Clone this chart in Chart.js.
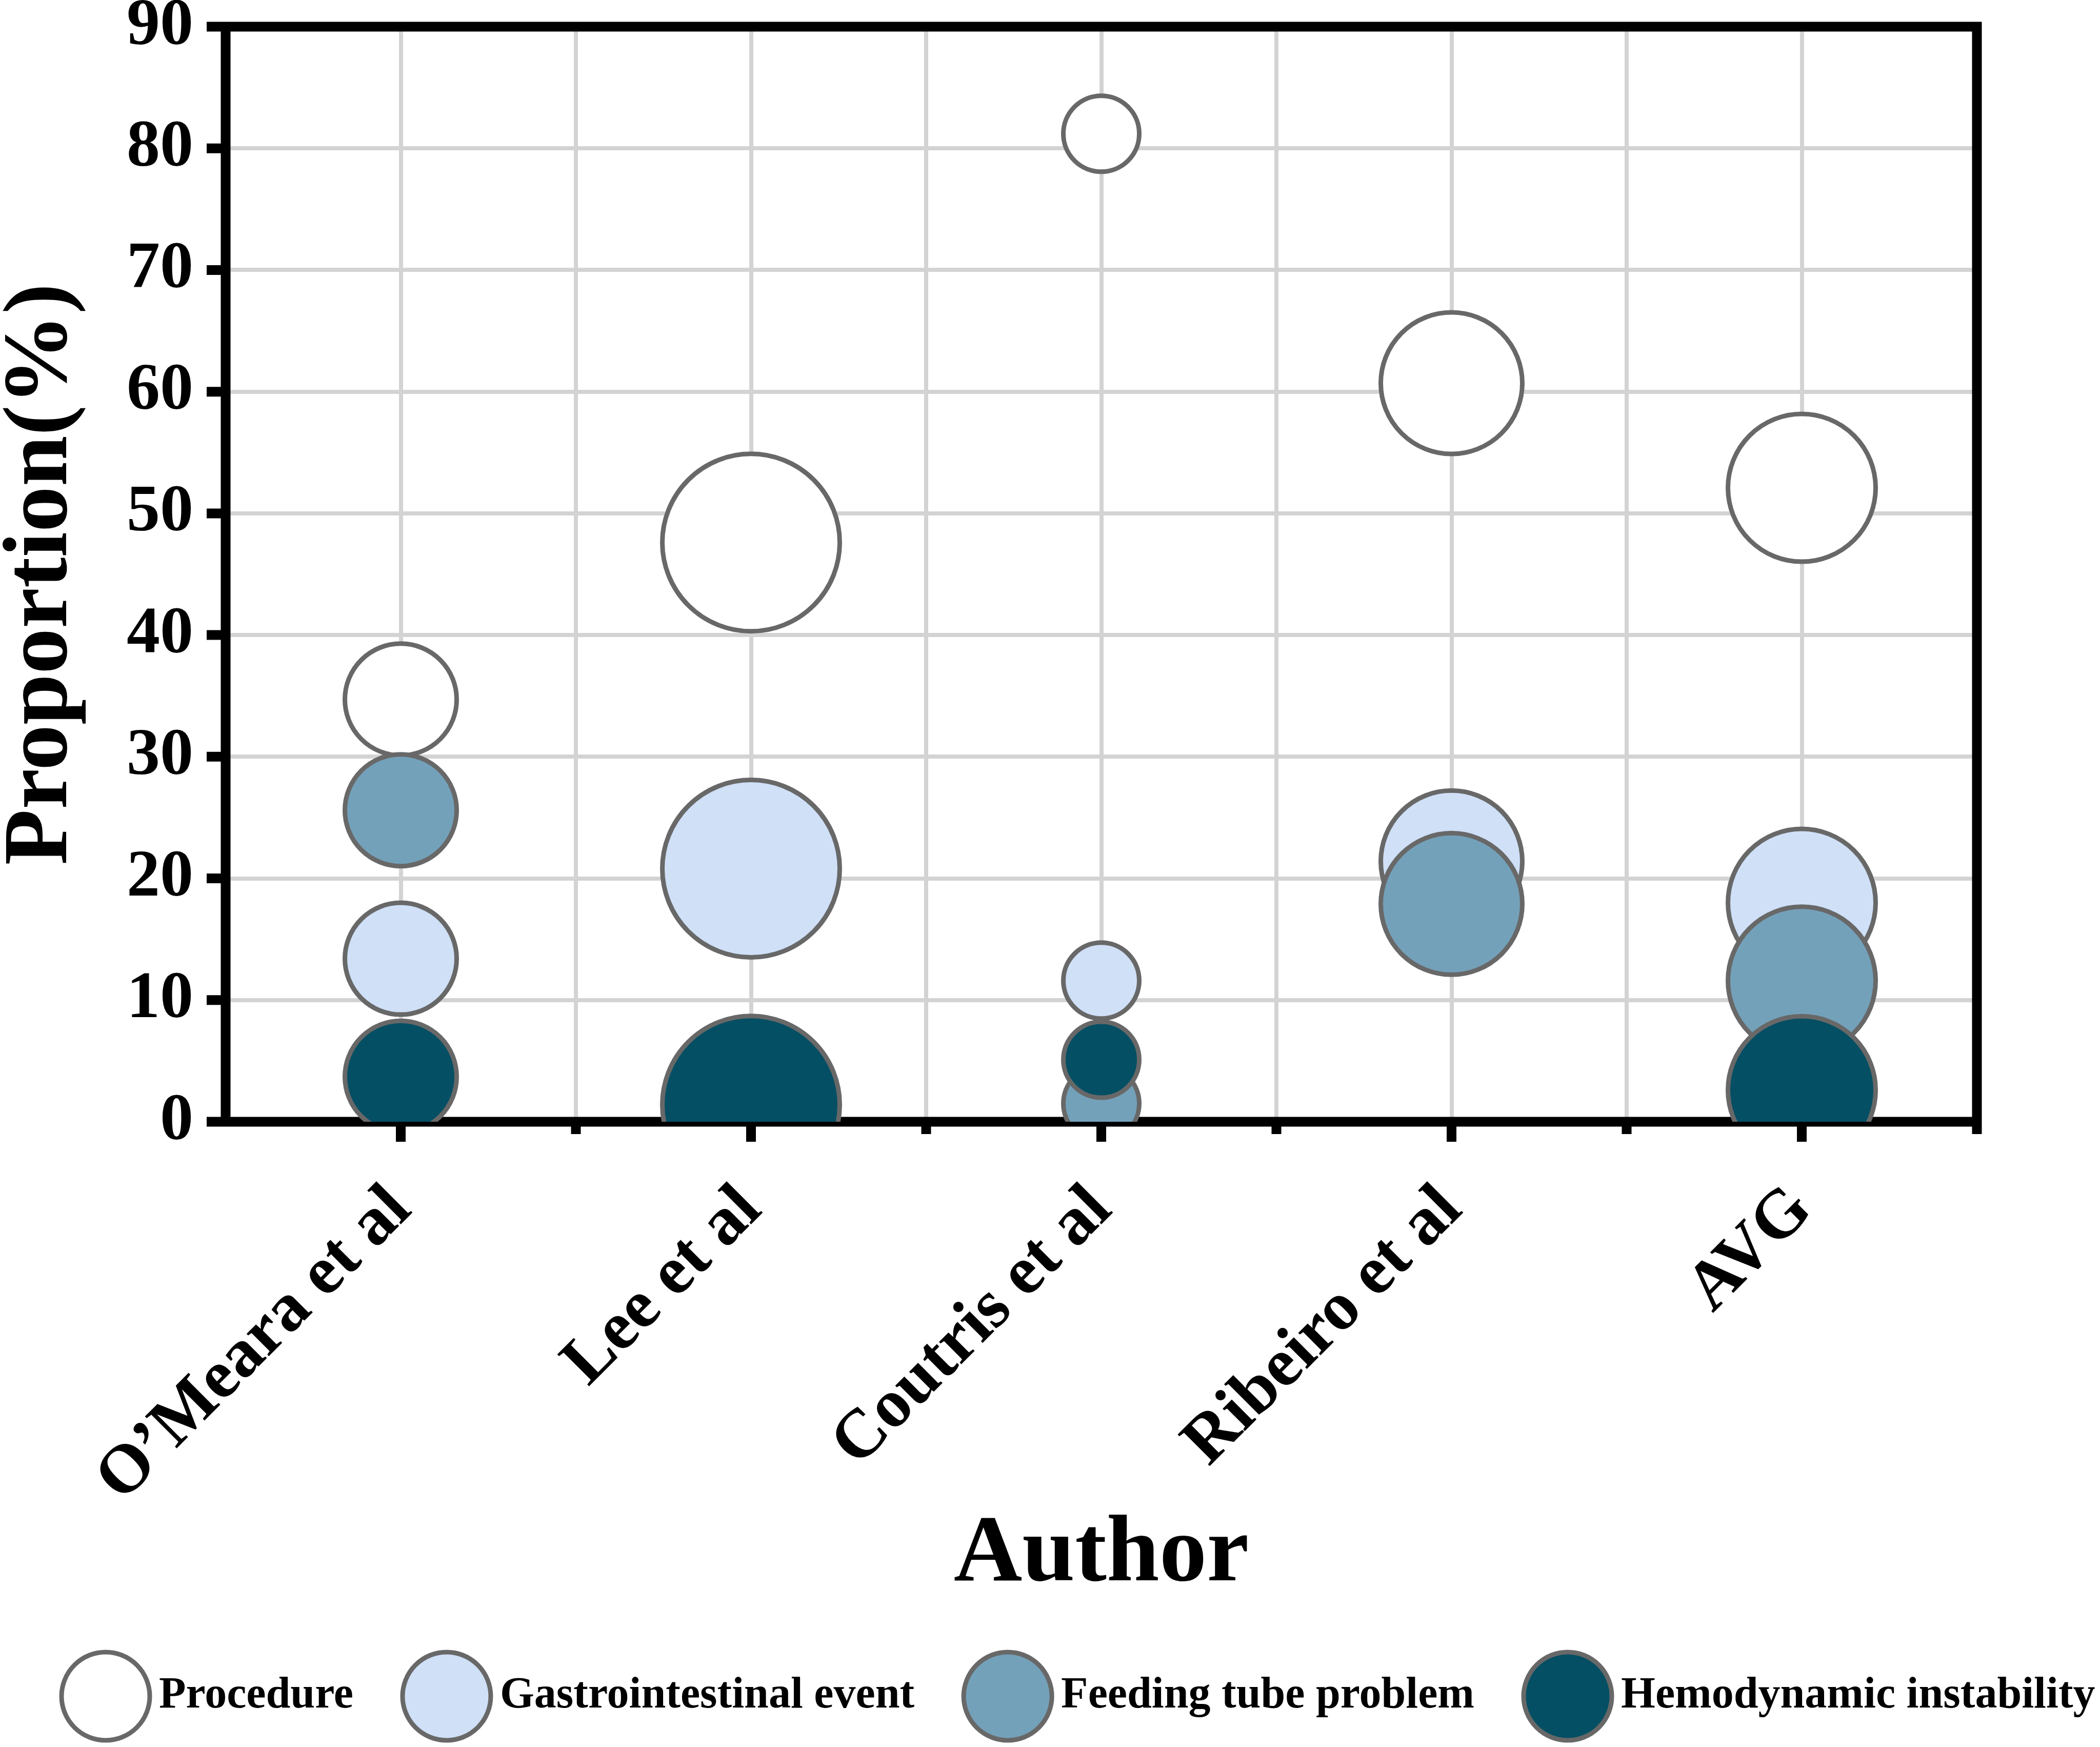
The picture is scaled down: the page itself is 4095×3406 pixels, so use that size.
<!DOCTYPE html>
<html>
<head>
<meta charset="utf-8">
<script src="https://cdn.jsdelivr.net/npm/chart.js@4.4.1/dist/chart.umd.min.js"></script>
<style>
  html, body { margin: 0; padding: 0; background: #fff; overflow: hidden; }
  canvas { display: block; }
</style>
</head>
<body>
<canvas id="bubbleChart" width="4095" height="3406"></canvas>
<script>
// categorias (eixo x) e séries
const authors = ['O’Meara et al', 'Lee et al', 'Coutris et al', 'Ribeiro et al', 'AVG'];
const seriesNames = ['Procedure', 'Gastrointestinal event', 'Feeding tube problem', 'Hemodynamic instability'];

const procedure = [34.7, 47.6, 81.2, 60.7, 52.1];
const gastrointestinal = [13.4, 20.8, 11.6, 21.4, 18.0];
const feedingTube = [25.6, null, 1.5, 17.9, 11.6];
const hemodynamic = [3.7, 1.4, 5.1, null, 2.6];

// tamanho relativo da bolha de cada estudo
const bubbleWeight = [1.09, 1.73, 0.74, 1.38, 1.44];

const seriesValues = [procedure, gastrointestinal, feedingTube, hemodynamic];
const fillColors = ['#ffffff', '#cfe0f7', '#74a1ba', '#044f64'];
const edgeColor = '#686868';
const fontFamily = '"Liberation Serif", "Times New Roman", serif';

Chart.defaults.font.family = fontFamily;
Chart.defaults.font.weight = 'bold';
Chart.defaults.color = '#000';

const datasets = seriesNames.map((name, s) => ({
    label: name,
    data: seriesValues[s]
        .map((v, i) => v === null ? null : { x: i, y: v, r: bubbleWeight[i] * 100 })
        .filter(p => p !== null),
    backgroundColor: fillColors[s],
    borderColor: edgeColor,
    borderWidth: 9,
    hoverBorderWidth: 9,
    order: seriesNames.length - s   // última série fica por cima
}));

// moldura preta e marcas de escala, antes das bolhas
const framePlugin = {
    id: 'frame',
    beforeDatasetsDraw(chart) {
        const { ctx, chartArea: a, scales } = chart;
        const lw = 19;
        ctx.save();
        ctx.strokeStyle = '#000';
        ctx.lineWidth = lw;
        ctx.lineCap = 'butt';
        ctx.beginPath();
        ctx.moveTo(a.left - 37, a.top); ctx.lineTo(a.right + lw / 2, a.top);
        ctx.moveTo(a.left - 37, a.bottom); ctx.lineTo(a.right + lw / 2, a.bottom);
        ctx.moveTo(a.left, a.top - lw / 2); ctx.lineTo(a.left, a.bottom + lw / 2);
        ctx.moveTo(a.right, a.top - lw / 2); ctx.lineTo(a.right, a.bottom + 24);
        // marcas do eixo y
        scales.y.ticks.forEach(t => {
            const y = scales.y.getPixelForValue(t.value);
            ctx.moveTo(a.left - 37, y); ctx.lineTo(a.left, y);
        });
        // marcas do eixo x (maiores nas categorias)
        scales.x.ticks.forEach(t => {
            if (t.value <= scales.x.min) return;
            const x = scales.x.getPixelForValue(t.value);
            const len = Number.isInteger(t.value) ? 39 : 24;
            ctx.moveTo(x, a.bottom); ctx.lineTo(x, a.bottom + len);
        });
        ctx.stroke();
        ctx.restore();
    }
};

// legenda desenhada à mão (círculos grandes como na figura)
const legendPlugin = {
    id: 'bigLegend',
    afterDraw(chart) {
        const { ctx } = chart;
        const r = 86;
        const cy = 3307;
        let x = 116;
        ctx.save();
        ctx.font = 'bold 86px ' + fontFamily;
        ctx.textBaseline = 'middle';
        ctx.textAlign = 'left';
        chart.data.datasets.forEach(ds => {
            const cx = x + r + 4;
            ctx.beginPath();
            ctx.arc(cx, cy, r, 0, Math.PI * 2);
            ctx.fillStyle = ds.backgroundColor;
            ctx.fill();
            ctx.lineWidth = 9;
            ctx.strokeStyle = edgeColor;
            ctx.stroke();
            const tx = cx + r + 18;
            ctx.fillStyle = '#000';
            ctx.fillText(ds.label, tx, cy);
            x = tx + ctx.measureText(ds.label).width + 92;
        });
        ctx.restore();
    }
};

new Chart(document.getElementById('bubbleChart'), {
    type: 'bubble',
    data: { datasets: datasets },
    options: {
        responsive: false,
        devicePixelRatio: 1,
        animation: false,
        layout: {
            autoPadding: false,   // sem margem extra por causa do raio das bolhas
            padding: { top: 52, right: 240, bottom: 280, left: 0 }
        },
        plugins: {
            legend: { display: false },
            tooltip: { enabled: false }
        },
        scales: {
            x: {
                type: 'linear',
                min: -0.5,
                max: 4.5,
                border: { display: false },
                grid: { color: '#d3d3d3', lineWidth: 8, drawTicks: false },
                ticks: {
                    stepSize: 0.5,
                    autoSkip: false,
                    minRotation: 45,
                    maxRotation: 45,
                    padding: 94,
                    font: { size: 134, weight: 'bold' },
                    callback: v => (Number.isInteger(v) && v >= 0 && v < authors.length) ? authors[v] : ''
                },
                title: {
                    display: true,
                    text: 'Author',
                    padding: 0,
                    font: { size: 185, weight: 'bold', lineHeight: 1 }
                },
                afterFit: scale => {
                    scale.height = 939;
                    scale.paddingLeft = 0;
                    scale.paddingRight = 0;
                }
            },
            y: {
                min: 0,
                max: 90,
                border: { display: false },
                grid: { color: '#d3d3d3', lineWidth: 8, drawTicks: false },
                ticks: {
                    stepSize: 10,
                    padding: 63,
                    font: { size: 130, weight: 'bold' }
                },
                title: {
                    display: true,
                    text: 'Proportion(%)',
                    padding: { top: 12, bottom: 0 },
                    font: { size: 178, weight: 'bold', lineHeight: 0.8 }
                },
                afterFit: scale => {
                    scale.width = 440;
                    scale.paddingTop = 0;
                    scale.paddingBottom = 0;
                }
            }
        }
    },
    plugins: [framePlugin, legendPlugin]
});
</script>
</body>
</html>
